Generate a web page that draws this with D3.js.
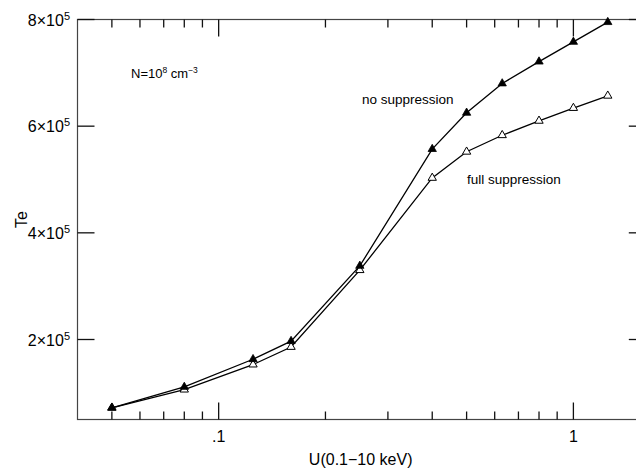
<!DOCTYPE html>
<html>
<head>
<meta charset="utf-8">
<script src="https://cdn.jsdelivr.net/npm/d3@7"></script>
<style>
  html, body { margin: 0; padding: 0; background: #fff; }
  svg { display: block; font-family: "Liberation Sans", Arial, Helvetica, sans-serif; }
</style>
</head>
<body>
<svg id="chart" width="636" height="470"></svg>
<script>
// ---- Data ----
const U = [0.05, 0.08, 0.125, 0.16, 0.25, 0.4, 0.5, 0.63, 0.8, 1.0, 1.25];
const noSuppression = [72000, 111000, 163000, 197000, 338000, 557000, 625000, 680000, 721000, 758000, 795000];
const fullSuppression = [72000, 106000, 153000, 186000, 330000, 503000, 552000, 583000, 610000, 634000, 657000];
const xMajorTicks = [0.1, 1];
const xMajorLabels = [".1", "1"];
const xMinorTicks = [0.05, 0.06, 0.07, 0.08, 0.09, 0.2, 0.3, 0.4, 0.5, 0.6, 0.7, 0.8, 0.9];
const yTicks = [200000, 400000, 600000, 800000];
const yTickMantissa = ["2", "4", "6", "8"];
const yTickExponent = ["5", "5", "5", "5"];

const svg = d3.select("#chart");
const L = 77.5, R = 645.8, T = 19.5, B = 419.5;

const x = d3.scaleLog().domain([0.04, 1.6]).range([L, R]);
const y = d3.scaleLinear().domain([50000, 800000]).range([B, T]);

// Frame
svg.append("rect")
  .attr("x", L).attr("y", T).attr("width", R - L).attr("height", B - T)
  .attr("fill", "none").attr("stroke", "#444").attr("stroke-width", 1.2);

// Ticks (all pointing inward)
const ticks = svg.append("g");
function tickLine(x1, y1, x2, y2) {
  ticks.append("path")
    .attr("d", `M${x1},${y1}L${x2},${y2}`)
    .attr("stroke", "#111").attr("stroke-width", 1.3).attr("fill", "none");
}
xMinorTicks.forEach(d => { const px = x(d); tickLine(px, B, px, B - 8); tickLine(px, T, px, T + 8); });
xMajorTicks.forEach(d => { const px = x(d); tickLine(px, B, px, B - 17); tickLine(px, T, px, T + 17); });
yTicks.forEach(d => { const py = y(d); tickLine(L, py, L + 17, py); tickLine(R, py, R - 17, py); });

// X tick labels
svg.append("g").selectAll("text").data(xMajorTicks).join("text")
  .attr("x", d => x(d)).attr("y", 442)
  .attr("text-anchor", "middle").attr("font-size", 16).attr("fill", "#000")
  .text((d, i) => xMajorLabels[i]);

// Y tick labels with superscript exponent
const yl = svg.append("g").selectAll("text").data(yTicks).join("text")
  .attr("x", 70).attr("y", d => y(d) + 6)
  .attr("text-anchor", "end").attr("font-size", 16).attr("fill", "#000");
yl.append("tspan").text((d, i) => yTickMantissa[i] + "\u00d710");
yl.append("tspan").attr("font-size", 11).attr("dy", -6).text((d, i) => yTickExponent[i]);

// Axis titles
svg.append("text").attr("x", (L + R) / 2 - 1).attr("y", 465)
  .attr("text-anchor", "middle").attr("font-size", 16).text("U(0.1\u221210 keV)");
svg.append("text").attr("transform", `translate(27,${(T + B) / 2}) rotate(-90)`)
  .attr("text-anchor", "middle").attr("font-size", 16).text("Te");

// Lines
const line = d3.line().x(d => x(d[0])).y(d => y(d[1]));
const seriesFull = U.map((u, i) => [u, fullSuppression[i]]);
const seriesNo = U.map((u, i) => [u, noSuppression[i]]);
svg.append("path").datum(seriesFull).attr("d", line)
  .attr("fill", "none").attr("stroke", "#000").attr("stroke-width", 1.3);
svg.append("path").datum(seriesNo).attr("d", line)
  .attr("fill", "none").attr("stroke", "#000").attr("stroke-width", 1.3);

// Markers
const tri = d3.symbol().type(d3.symbolTriangle).size(30);
svg.append("g").selectAll("path").data(seriesFull).join("path")
  .attr("transform", d => `translate(${x(d[0])},${y(d[1])})`)
  .attr("d", tri).attr("fill", "#fff").attr("stroke", "#000").attr("stroke-width", 1);
svg.append("g").selectAll("path").data(seriesNo).join("path")
  .attr("transform", d => `translate(${x(d[0])},${y(d[1])})`)
  .attr("d", tri).attr("fill", "#000").attr("stroke", "#000").attr("stroke-width", 0.8);

// Annotations
const n = svg.append("text").attr("x", 131).attr("y", 77.5).attr("font-size", 13);
n.append("tspan").text("N=10");
n.append("tspan").attr("font-size", 8.5).attr("dy", -5).text("8");
n.append("tspan").attr("dy", 5).text(" cm");
n.append("tspan").attr("font-size", 8.5).attr("dy", -5).text("\u22123");

svg.append("text").attr("x", 362).attr("y", 103.5).attr("font-size", 13.5).text("no suppression");
svg.append("text").attr("x", 467).attr("y", 183.5).attr("font-size", 13.5).text("full suppression");
</script>
</body>
</html>
